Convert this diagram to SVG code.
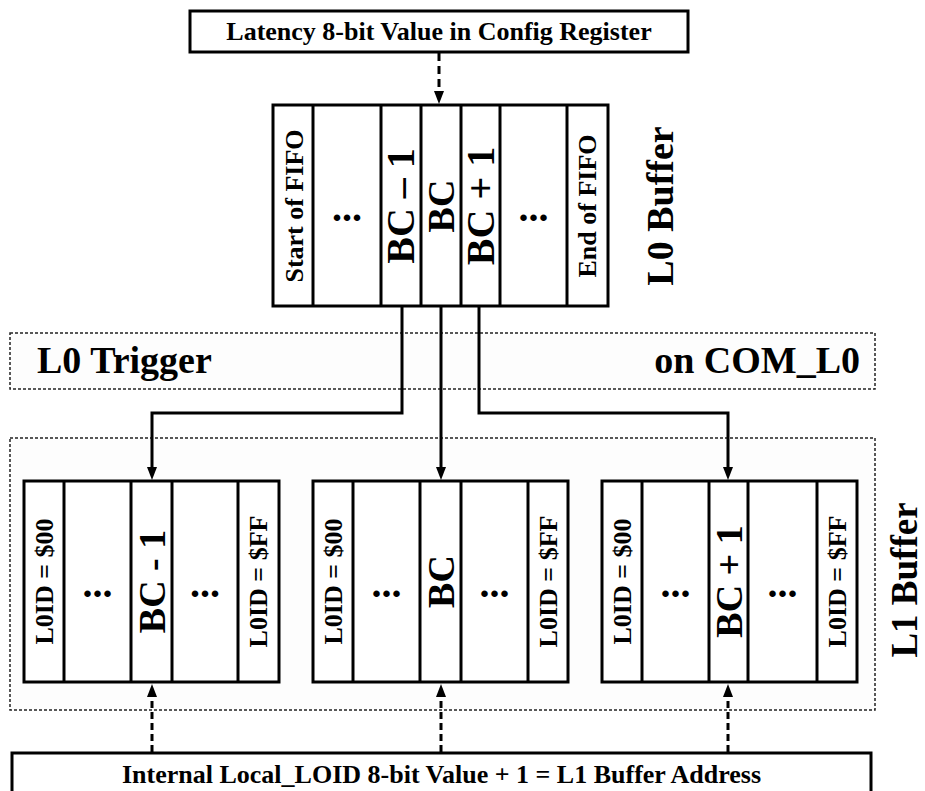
<svg xmlns="http://www.w3.org/2000/svg" width="925" height="791" viewBox="0 0 925 791">
<style>
  text { font-family: "Liberation Serif", "Times New Roman", serif; font-weight: bold; fill: #000; }
  .box { fill: #fff; stroke: #000; stroke-width: 3; }
  .div { stroke: #000; stroke-width: 3; }
  .group { fill: #fdfdfd; stroke: #222; stroke-width: 1.5; stroke-dasharray: 3 2; }
  .conn { fill: none; stroke: #000; stroke-width: 3; }
  .dash1 { fill: none; stroke: #000; stroke-width: 3; stroke-dasharray: 8 5; }
  .dash2 { fill: none; stroke: #000; stroke-width: 3; stroke-dasharray: 7 4; }
  .t26 { font-size: 26px; }
  .t37 { font-size: 37px; }
  .t38 { font-size: 38px; }
  .t40 { font-size: 40px; }
  .dots { font-size: 40px; text-anchor: middle; }
  .mid { text-anchor: middle; }
</style>
<defs>
  <marker id="ah" viewBox="0 0 13 10" refX="0" refY="5" markerWidth="13" markerHeight="10" markerUnits="userSpaceOnUse" orient="auto">
    <path d="M0,0 L13,5 L0,10 z" fill="#000" stroke="none"/>
  </marker>
</defs>
<rect width="925" height="791" fill="#fff"/>

<!-- group regions -->
<g id="l0-trigger">
  <rect class="group" x="10" y="333" width="865" height="56"/>
  <text class="t38" x="37" y="373">L0 Trigger</text>
  <text class="t38" x="860" y="373" text-anchor="end">on COM_L0</text>
</g>
<g id="l1-buffer-region">
  <rect class="group" x="10" y="438" width="865" height="272"/>
  <text class="t37 mid" transform="translate(905,580) rotate(-90)" y="12">L1 Buffer</text>
</g>

<!-- top register -->
<g id="config-register">
  <rect class="box" x="190" y="11" width="498" height="41"/>
  <text class="t26 mid" x="439" y="40">Latency 8-bit Value in Config Register</text>
</g>

<!-- L0 buffer -->
<g id="l0-buffer">
  <rect class="box" x="273" y="105" width="335" height="201"/>
  <line class="div" x1="313" y1="105" x2="313" y2="306"/>
  <line class="div" x1="381" y1="105" x2="381" y2="306"/>
  <line class="div" x1="421" y1="105" x2="421" y2="306"/>
  <line class="div" x1="461" y1="105" x2="461" y2="306"/>
  <line class="div" x1="500" y1="105" x2="500" y2="306"/>
  <line class="div" x1="567" y1="105" x2="567" y2="306"/>
  <text class="t26 mid" transform="translate(294,206) rotate(-90)" y="8.5">Start of FIFO</text>
  <text class="dots" x="347" y="221">...</text>
  <text class="t40 mid" transform="translate(401,206) rotate(-90)" y="13">BC – 1</text>
  <text class="t38 mid" transform="translate(441,206) rotate(-90)" y="12.5">BC</text>
  <text class="t40 mid" transform="translate(481,206) rotate(-90)" y="13">BC + 1</text>
  <text class="dots" x="533.5" y="221">...</text>
  <text class="t26 mid" transform="translate(587,206) rotate(-90)" y="8.5">End of FIFO</text>
  <text class="t38 mid" transform="translate(660,206) rotate(-90)" y="12.5">L0 Buffer</text>
</g>

<!-- L1 buffers -->
<g id="l1-buffer-1">
  <rect class="box" x="24" y="481" width="255" height="201"/>
  <line class="div" x1="64" y1="481" x2="64" y2="682"/>
  <line class="div" x1="131" y1="481" x2="131" y2="682"/>
  <line class="div" x1="172" y1="481" x2="172" y2="682"/>
  <line class="div" x1="238" y1="481" x2="238" y2="682"/>
  <text class="t26 mid" transform="translate(44,581.5) rotate(-90)" y="8.5">L0ID = $00</text>
  <text class="dots" x="97.5" y="597">...</text>
  <text class="t38 mid" transform="translate(152,581.5) rotate(-90)" y="12.5">BC - 1</text>
  <text class="dots" x="205" y="597">...</text>
  <text class="t26 mid" transform="translate(258.5,581.5) rotate(-90)" y="8.5">L0ID = $FF</text>
</g>
<g id="l1-buffer-2">
  <rect class="box" x="313" y="481" width="255" height="201"/>
  <line class="div" x1="353" y1="481" x2="353" y2="682"/>
  <line class="div" x1="420" y1="481" x2="420" y2="682"/>
  <line class="div" x1="461" y1="481" x2="461" y2="682"/>
  <line class="div" x1="528" y1="481" x2="528" y2="682"/>
  <text class="t26 mid" transform="translate(333,581.5) rotate(-90)" y="8.5">L0ID = $00</text>
  <text class="dots" x="386.5" y="597">...</text>
  <text class="t38 mid" transform="translate(441,581.5) rotate(-90)" y="12.5">BC</text>
  <text class="dots" x="494.5" y="597">...</text>
  <text class="t26 mid" transform="translate(548,581.5) rotate(-90)" y="8.5">L0ID = $FF</text>
</g>
<g id="l1-buffer-3">
  <rect class="box" x="602" y="481" width="255" height="201"/>
  <line class="div" x1="642" y1="481" x2="642" y2="682"/>
  <line class="div" x1="709" y1="481" x2="709" y2="682"/>
  <line class="div" x1="748" y1="481" x2="748" y2="682"/>
  <line class="div" x1="817" y1="481" x2="817" y2="682"/>
  <text class="t26 mid" transform="translate(622,581.5) rotate(-90)" y="8.5">L0ID = $00</text>
  <text class="dots" x="675.5" y="597">...</text>
  <text class="t38 mid" transform="translate(729,581.5) rotate(-90)" y="12.5">BC + 1</text>
  <text class="dots" x="782.5" y="597">...</text>
  <text class="t26 mid" transform="translate(837,581.5) rotate(-90)" y="8.5">L0ID = $FF</text>
</g>

<!-- bottom address -->
<g id="l1-address">
  <rect class="box" x="12" y="753" width="859" height="60"/>
  <text class="t26 mid" x="441.5" y="783">Internal Local_LOID 8-bit Value + 1 = L1 Buffer Address</text>
</g>

<!-- connectors -->
<g id="connectors">
  <path class="dash1" d="M439,53 V91" marker-end="url(#ah)"/>
  <path class="conn" d="M402,306 V413 H152 V467" marker-end="url(#ah)"/>
  <path class="conn" d="M441,306 V467" marker-end="url(#ah)"/>
  <path class="conn" d="M479,306 V413 H728 V467" marker-end="url(#ah)"/>
  <path class="dash2" d="M152,752 V697" marker-end="url(#ah)"/>
  <path class="dash2" d="M441,752 V697" marker-end="url(#ah)"/>
  <path class="dash2" d="M728,752 V697" marker-end="url(#ah)"/>
</g>
</svg>
